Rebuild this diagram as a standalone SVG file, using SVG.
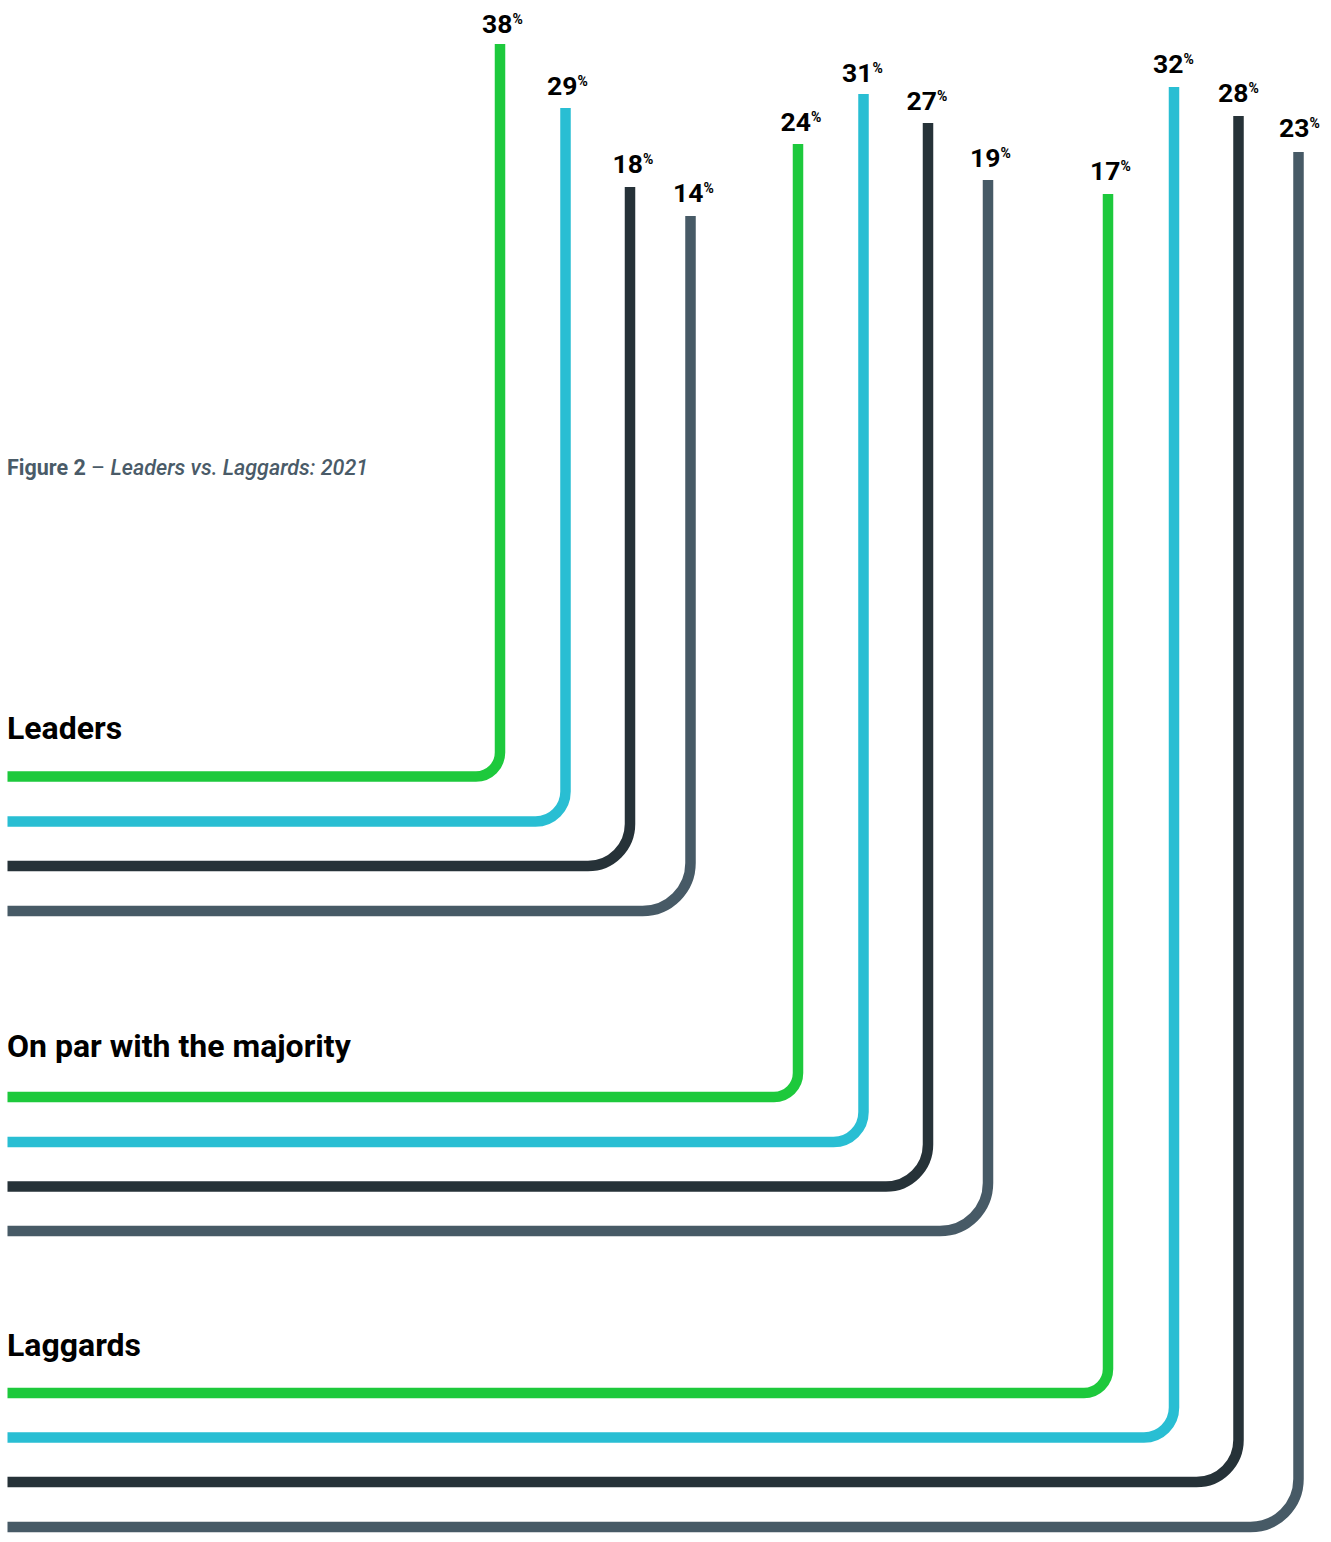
<svg xmlns="http://www.w3.org/2000/svg" width="1331" height="1542" viewBox="0 0 1331 1542">
<style>
.ln{fill:none;stroke-width:10.5;stroke-linecap:butt}
.g{stroke:#1dc93c}.c{stroke:#29bed3}.d{stroke:#263238}.s{stroke:#475a66}
.pct{font-family:Roboto,"Liberation Sans",sans-serif;font-weight:bold;font-size:26.5px;fill:#000}
.sup{font-size:14px}
.grp{font-family:Roboto,"Liberation Sans",sans-serif;font-weight:bold;font-size:32px;fill:#000}
.cap{font-family:Roboto,"Liberation Sans",sans-serif;font-size:21.5px;fill:#4a5b68}
</style>
<rect width="1331" height="1542" fill="#fff"/>
<text class="cap" x="7" y="475"><tspan font-weight="bold">Figure 2</tspan> – <tspan font-style="italic" font-weight="500">Leaders vs. Laggards: 2021</tspan></text>
<g id="group-labels">
<text id="lbl-leaders" class="grp" x="7" y="739">Leaders</text>
<text id="lbl-onpar" class="grp" x="7" y="1057">On par with the majority</text>
<text id="lbl-laggards" class="grp" x="7" y="1356">Laggards</text>
</g>
<g id="connectors">
<path class="ln g" d="M7.5 776.5 H476 A24 24 0 0 0 500 752.5 V44"/>
<path class="ln c" d="M7.5 821.5 H535.5 A30 30 0 0 0 565.5 791.5 V108"/>
<path class="ln d" d="M7.5 866 H588 A42 42 0 0 0 630 824 V187"/>
<path class="ln s" d="M7.5 911 H642.5 A48 48 0 0 0 690.5 863 V216"/>
<path class="ln g" d="M7.5 1097 H774 A24 24 0 0 0 798 1073 V144"/>
<path class="ln c" d="M7.5 1142 H833.5 A30 30 0 0 0 863.5 1112 V94"/>
<path class="ln d" d="M7.5 1186.5 H886 A42 42 0 0 0 928 1144.5 V123"/>
<path class="ln s" d="M7.5 1231 H940 A48 48 0 0 0 988 1183 V180"/>
<path class="ln g" d="M7.5 1393 H1084 A24 24 0 0 0 1108 1369 V194"/>
<path class="ln c" d="M7.5 1437.5 H1144 A30 30 0 0 0 1174 1407.5 V87"/>
<path class="ln d" d="M7.5 1482 H1196.5 A42 42 0 0 0 1238.5 1440 V116"/>
<path class="ln s" d="M7.5 1527 H1250.5 A48 48 0 0 0 1298.5 1479 V152"/>
</g>
<g id="values">
<text class="pct" x="482" y="33">38<tspan class="sup" dy="-9">%</tspan></text>
<text class="pct" x="547" y="95">29<tspan class="sup" dy="-9">%</tspan></text>
<text class="pct" x="612.5" y="173">18<tspan class="sup" dy="-9">%</tspan></text>
<text class="pct" x="673" y="202">14<tspan class="sup" dy="-9">%</tspan></text>
<text class="pct" x="780.5" y="131">24<tspan class="sup" dy="-9">%</tspan></text>
<text class="pct" x="842" y="82">31<tspan class="sup" dy="-9">%</tspan></text>
<text class="pct" x="906.5" y="110">27<tspan class="sup" dy="-9">%</tspan></text>
<text class="pct" x="970" y="167">19<tspan class="sup" dy="-9">%</tspan></text>
<text class="pct" x="1090" y="180">17<tspan class="sup" dy="-9">%</tspan></text>
<text class="pct" x="1153" y="73">32<tspan class="sup" dy="-9">%</tspan></text>
<text class="pct" x="1218" y="102">28<tspan class="sup" dy="-9">%</tspan></text>
<text class="pct" x="1279" y="137">23<tspan class="sup" dy="-9">%</tspan></text>
</g>
</svg>
